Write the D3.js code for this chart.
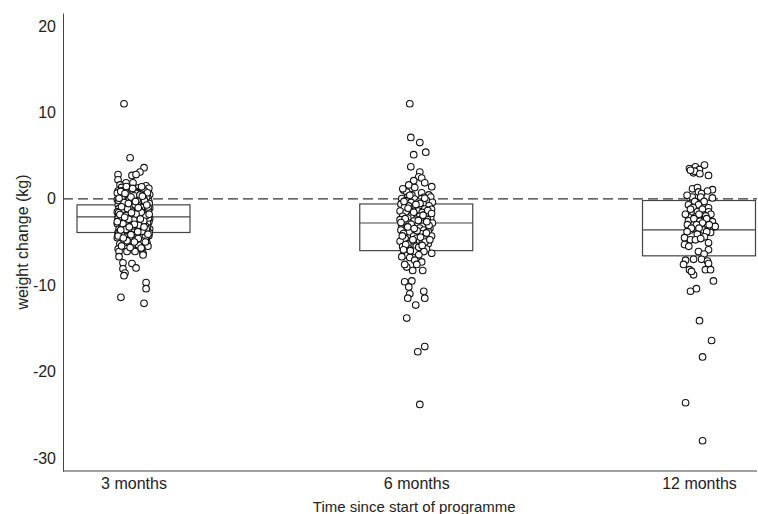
<!DOCTYPE html>
<html>
<head>
<meta charset="utf-8">
<script src="https://cdn.jsdelivr.net/npm/d3@7"></script>
<style>
  body { margin: 0; background: #fff; }
  text { font-family: "Liberation Sans", Arial, sans-serif; fill: #222; }
</style>
</head>
<body>
<div id="chart"></div>
<script>
// ---------------- data ----------------
const groups = ['3 months', '6 months', '12 months'];
const yTicks = [20, 10, 0, -10, -20, -30];

// box: upper hinge, median, lower hinge (kg)
const boxTop = [-0.7, -0.6, -0.2];
const boxMid = [-2.1, -2.8, -3.6];
const boxBot = [-3.9, -6.0, -6.6];

// points: [jitter (-1..1), weight change kg]
const pts3 = [
  [-0.56, 11.0], [-0.2, 4.75], [0.62, 3.6], [0.38, 3.1], [-0.91, 2.8], [-0.09, 2.7], [0.15, 2.8],
  [-0.91, 2.2], [-0.44, 1.85], [0.74, 1.5], [-0.79, 1.6], [-0.03, 1.85], [0.79, 0.8], [0.85, 0.35],
  [-0.7, 1.32], [0.3, 1.27], [0.9, 1.21], [-0.2, 1.08], [0.55, 1.12],
  [-0.9, 0.93], [0.1, 0.88], [0.65, 0.9], [-0.45, 0.72], [0.25, 0.68],
  [-0.8, 0.52], [-0.1, 0.47], [0.45, 0.55], [0.95, 0.49], [-0.6, 0.31], [0.15, 0.28], [0.7, 0.33],
  [-0.3, 0.12], [0.35, 0.08], [0.85, 0.1], [-0.95, -0.08], [-0.5, -0.12], [0.05, -0.1], [0.6, -0.07],
  [-0.75, -0.31], [-0.15, -0.27], [0.4, -0.33], [0.9, -0.29], [-0.55, -0.52], [0.2, -0.48], [0.75, -0.5],
  [-0.9, -0.69], [-0.3, -0.72], [0.0, -0.7], [0.5, -0.67], [-0.65, -0.9], [0.3, -0.88], [0.8, -0.93], [-0.05, -0.91],
  [-0.85, -1.12], [-0.4, -1.08], [0.15, -1.1], [0.6, -1.13], [0.95, -1.07],
  [-0.2, -1.31], [0.4, -1.28], [-0.7, -1.33], [-0.95, -1.52], [-0.5, -1.48], [0.05, -1.5], [0.7, -1.53],
  [-0.3, -1.71], [0.25, -1.68], [0.85, -1.72], [-0.75, -1.7], [-0.6, -1.9], [0.0, -1.88], [0.5, -1.93],
  [-0.9, -2.1], [-0.35, -2.12], [0.2, -2.08], [0.75, -2.11], [-0.1, -2.3], [0.45, -2.28], [-0.65, -2.32], [0.95, -2.31],
  [-0.8, -2.52], [-0.25, -2.48], [0.3, -2.5], [-0.5, -2.71], [0.1, -2.68], [0.65, -2.72], [0.9, -2.69],
  [-0.95, -2.9], [-0.15, -2.92], [0.4, -2.88], [-0.7, -3.1], [0.2, -3.12], [0.8, -3.08],
  [-0.4, -3.3], [0.0, -3.32], [0.55, -3.28], [-0.85, -3.5], [-0.2, -3.52], [0.35, -3.48], [0.95, -3.51],
  [-0.55, -3.71], [0.15, -3.68], [0.7, -3.72], [-0.3, -3.9], [0.45, -3.93], [-0.91, -3.9],
  [-0.8, -4.1], [0.05, -4.12], [0.6, -4.08], [-0.45, -4.3], [0.3, -4.32], [0.9, -4.28],
  [-0.95, -4.5], [-0.1, -4.52], [0.5, -4.48], [-0.6, -4.7], [0.2, -4.72], [0.75, -4.69],
  [-0.3, -4.9], [0.4, -4.93], [0.79, -5.1], [-0.8, -5.2], [0.1, -5.22], [0.65, -5.18],
  [-0.5, -5.5], [0.3, -5.52], [0.85, -5.48], [-0.9, -5.8], [-0.15, -5.82], [0.5, -5.78],
  [-0.85, -6.1], [0.56, -6.3], [0.09, -6.1], [-0.38, -6.1], [-0.85, -6.7], [0.56, -6.5],
  [-0.62, -7.4], [-0.09, -7.5], [-0.62, -8.1], [0.15, -8.0], [-0.5, -8.6], [-0.56, -8.9],
  [0.74, -9.7], [0.74, -10.4], [-0.74, -11.4], [0.62, -12.1],
  [-0.62, 0.95], [0.18, 0.62], [-0.33, 0.41], [0.77, 0.18], [-0.88, -0.2], [0.42, -0.45], [-0.12, -0.6],
  [0.58, -0.82], [-0.48, -0.98], [0.05, -1.2], [0.88, -1.38], [-0.72, -1.45], [0.32, -1.6], [-0.22, -1.78],
  [0.66, -1.85], [-0.58, -2.0], [0.12, -2.2], [-0.82, -2.4], [0.52, -2.42], [-0.38, -2.6], [0.82, -2.8],
  [-0.02, -2.78], [-0.68, -3.0], [0.28, -3.2], [-0.18, -3.42], [0.62, -3.6], [-0.78, -3.78], [0.08, -3.95],
  [0.48, -4.2], [-0.52, -4.4], [-0.42, 1.42], [0.48, 1.38], [-0.05, 1.2], [0.82, 0.7], [-0.68, 0.15],
  [0.22, -0.15], [-0.4, -0.38], [0.68, -0.58], [-0.18, -0.8], [0.48, -1.0], [-0.6, -1.22], [0.25, -1.4],
  [-0.88, -1.62], [0.58, -1.7], [-0.42, -1.92], [0.35, -2.0], [-0.15, -2.2], [0.88, -2.22], [-0.7, -2.62],
  [0.22, -2.55], [-0.32, -2.82], [0.58, -2.98], [-0.5, -3.2], [0.12, -3.55], [-0.62, -3.3], [0.82, -3.35],
  [-0.08, -3.72], [0.38, -3.82], [-0.7, -4.22], [0.7, -4.45], [-0.25, -4.65], [0.55, -4.9], [-0.55, -5.05],
  [0.3, -5.35], [-0.2, -5.65], [-0.95, 0.68], [0.02, 0.35], [0.6, 0.05], [-0.25, -0.05], [0.92, -0.55],
  [-0.6, -0.7], [0.35, -1.25], [-0.1, -1.45], [0.72, -1.95], [-0.9, -2.25], [0.02, -2.45], [0.45, -2.65],
  [-0.48, -2.75], [0.7, -3.15], [-0.3, -3.65], [0.2, -4.0], [-0.88, -4.05], [0.92, -3.95], [-0.1, -4.35],
  [0.12, -4.8],
  [-0.75, 0.85], [0.38, 0.45], [-0.15, 0.2], [0.65, -0.22], [-0.55, -0.42], [0.1, -0.68], [0.85, -0.95],
  [-0.35, -1.15], [0.45, -1.55], [-0.8, -1.82], [0.15, -1.75], [-0.28, -2.38], [0.6, -2.58], [-0.62, -2.9],
  [0.3, -3.05], [-0.05, -3.15], [0.75, -3.5], [-0.45, -3.55], [0.5, -3.75], [-0.9, -4.3], [0.28, -4.6],
  [-0.38, -4.85], [0.7, -5.0], [-0.7, -5.45], [0.45, -5.7], [-0.5, 0.6], [0.52, 0.3], [-0.85, 0.05],
  [0.12, -0.3], [-0.3, -0.55], [0.78, -0.72], [-0.7, -0.92], [0.28, -1.05], [-0.12, -1.62], [0.92, -1.8],
  [-0.52, -2.15], [0.4, -2.35], [-0.95, -2.65], [0.05, -2.95], [0.62, -3.25], [-0.25, -3.25], [-0.75, -3.6],
  [0.25, -3.8], [-0.15, -4.15], [0.85, -4.1], [-0.6, -4.55], [0.05, -5.0]
];

const pts6 = [
  [-0.38, 11.0], [-0.32, 7.1], [0.21, 6.5], [0.56, 5.4], [-0.15, 5.1], [-0.32, 3.7], [0.21, 3.1],
  [0.15, 2.55], [0.32, 2.4], [-0.15, 2.1], [-0.44, 1.6], [0.5, 1.85], [0.91, 1.4], [-0.74, 1.0],
  [-0.56, 0.8], [-0.09, 1.3], [0.74, 0.45], [-0.26, 0.45], [0.32, 0.7], [-0.79, 1.15],
  [-0.5, 0.22], [0.45, 0.18], [0.85, 0.2], [-0.85, 0.02], [-0.1, -0.03], [0.3, 0.01],
  [-0.6, -0.22], [0.6, -0.18], [-0.3, -0.42], [0.15, -0.38], [0.95, -0.41],
  [-0.9, -0.62], [0.4, -0.58], [-0.45, -0.82], [0.05, -0.79], [0.75, -0.81],
  [-0.7, -1.02], [0.25, -0.98], [-0.2, -1.22], [0.5, -1.18], [0.9, -1.21],
  [-0.95, -1.42], [-0.35, -1.38], [0.1, -1.41], [-0.6, -1.62], [0.35, -1.58], [0.7, -1.61],
  [-0.1, -1.82], [0.55, -1.79], [-0.8, -2.02], [-0.3, -1.98], [0.2, -2.01],
  [-0.5, -2.22], [0.4, -2.18], [0.85, -2.21], [-0.95, -2.42], [0.0, -2.38], [0.65, -2.41],
  [-0.7, -2.62], [-0.15, -2.58], [0.3, -2.61], [-0.4, -2.82], [0.5, -2.78], [0.95, -2.81],
  [-0.85, -3.02], [0.1, -2.98], [0.6, -3.01], [-0.25, -3.22], [0.35, -3.18],
  [-0.6, -3.42], [0.2, -3.38], [0.8, -3.41], [-0.9, -3.62], [-0.05, -3.58], [0.45, -3.61],
  [-0.4, -3.82], [0.7, -3.78], [-0.75, -4.02], [0.1, -3.98], [0.3, -4.05],
  [-0.15, -4.32], [0.55, -4.28], [0.9, -4.31], [-0.65, -4.62], [0.0, -4.58], [0.4, -4.61],
  [-0.95, -4.92], [-0.3, -4.88], [0.2, -4.91], [-0.5, -5.22], [0.35, -5.18], [0.7, -5.21],
  [-0.8, -5.52], [0.0, -5.48], [-0.4, -5.82], [0.25, -5.78], [0.6, -5.81],
  [-0.7, -6.12], [-0.1, -6.08], [0.45, -6.11], [-0.55, -6.52], [0.15, -6.48],
  [0.91, -6.3], [-0.85, -6.7], [-0.38, -6.8], [-0.09, -7.1], [0.32, -7.3], [-0.56, -7.9],
  [-0.68, -7.6], [0.03, -7.6], [0.38, -8.3], [-0.21, -8.3],
  [-0.68, -9.6], [-0.26, -9.5], [-0.44, -10.2], [0.44, -10.7], [-0.38, -11.0], [-0.5, -11.5],
  [0.5, -11.5], [-0.03, -12.3], [-0.56, -13.8], [0.5, -17.1], [0.09, -17.7], [0.21, -23.8],
  [-0.72, -0.3], [0.22, -0.55], [-0.48, -1.1], [0.68, -1.35], [-0.15, -1.55], [0.4, -1.9],
  [-0.65, -2.3], [0.12, -2.5], [-0.3, -2.95], [0.75, -3.1], [-0.5, -3.25], [0.05, -3.7],
  [0.6, -3.95], [-0.82, -4.3], [0.25, -4.45], [-0.2, -4.75], [0.52, -5.0], [-0.62, -5.3],
  [0.15, -5.6], [-0.35, -6.0], [0.8, -4.75], [-0.9, -2.75], [0.9, -1.7], [-0.02, -0.65],
  [0.5, 0.05], [-0.38, 0.4], [0.62, -2.65], [-0.12, -3.45], [0.35, -5.4], [-0.75, -5.9]
];

const pts12 = [
  [-0.56, 3.5], [-0.21, 3.7], [0.03, 3.4], [0.32, 3.9], [-0.32, 3.0], [0.56, 2.7], [-0.26, 3.2],
  [0.05, 2.9], [-0.5, 3.3],
  [-0.38, 1.15], [-0.09, 1.3], [-0.03, 0.8], [0.15, 0.6], [0.79, 1.05], [0.79, 0.1], [0.5, 0.9],
  [-0.4, 0.2], [0.1, 0.2], [-0.7, 0.4], [0.3, -0.3], [-0.25, -0.3],
  [-0.62, -0.7], [-0.03, -0.7], [0.56, -1.05], [-0.35, -1.0], [-0.09, -1.5], [0.56, -1.5],
  [-0.5, -1.2], [0.2, -1.2], [-0.62, -2.1], [-0.21, -2.1], [0.32, -1.9], [-0.8, -1.8],
  [0.0, -1.8], [0.7, -1.8], [0.4, -2.0], [-0.62, -2.55], [0.79, -2.65], [-0.3, -2.3], [0.45, -2.3],
  [0.05, -2.6], [-0.68, -3.0], [0.21, -2.8], [0.5, -3.25], [0.85, -3.25], [0.95, -3.2],
  [-0.15, -3.0], [0.6, -3.0], [-0.5, -3.6], [0.26, -3.6], [-0.45, -3.4], [0.0, -3.4],
  [0.68, -3.9], [0.45, -3.8], [-0.7, -3.8], [-0.1, -4.1], [0.32, -4.4], [-0.85, -4.5],
  [-0.5, -4.75], [-0.21, -4.75], [0.1, -4.6], [-0.85, -5.3], [0.56, -5.1], [-0.6, -5.5],
  [0.56, -5.9], [-0.03, -6.1], [0.3, -6.4],
  [-0.79, -7.1], [-0.32, -7.0], [0.15, -7.0], [0.5, -7.2], [-0.91, -7.6], [0.56, -7.5],
  [-0.56, -8.2], [-0.32, -8.8], [0.38, -8.2], [0.68, -8.2], [-0.44, -8.4], [0.85, -9.5],
  [-0.5, -10.7], [-0.15, -10.4], [0.03, -14.1], [0.74, -16.4], [0.21, -18.3],
  [-0.79, -23.6], [0.21, -28.0]
];

const series = [pts3, pts6, pts12];

// ---------------- layout ----------------
const width = 758, height = 514;
const margin = { top: 13, right: 1, bottom: 43, left: 63 };
const w = width - margin.left - margin.right;
const h = height - margin.top - margin.bottom;
const boxW = 113;
const jitterW = 17;

const svg = d3.select('#chart')
  .append('svg')
  .attr('width', width)
  .attr('height', height);

const g = svg.append('g')
  .attr('transform', `translate(${margin.left},${margin.top})`);

const x = d3.scalePoint()
  .domain(groups)
  .range([70.5, 636]);

const y = d3.scaleLinear()
  .domain([-31.5, 21.5])
  .range([h, 0]);

// reference line at 0
g.append('line')
  .attr('x1', 0)
  .attr('x2', w)
  .attr('y1', y(0))
  .attr('y2', y(0))
  .attr('stroke', '#333')
  .attr('stroke-width', 1.2)
  .attr('stroke-dasharray', '10,5');

// boxes
const boxes = g.selectAll('.box')
  .data(groups)
  .enter()
  .append('g')
  .attr('class', 'box');

boxes.append('rect')
  .attr('x', d => x(d) - boxW / 2)
  .attr('y', (d, i) => y(boxTop[i]))
  .attr('width', boxW)
  .attr('height', (d, i) => y(boxBot[i]) - y(boxTop[i]))
  .attr('fill', 'none')
  .attr('stroke', '#444')
  .attr('stroke-width', 1.2);

boxes.append('line')
  .attr('x1', d => x(d) - boxW / 2)
  .attr('x2', d => x(d) + boxW / 2)
  .attr('y1', (d, i) => y(boxMid[i]))
  .attr('y2', (d, i) => y(boxMid[i]))
  .attr('stroke', '#444')
  .attr('stroke-width', 1.2);

// jittered points
series.forEach((pts, i) => {
  g.append('g')
    .selectAll('circle')
    .data(pts)
    .enter()
    .append('circle')
    .attr('cx', d => x(groups[i]) + d[0] * jitterW)
    .attr('cy', d => y(d[1]))
    .attr('r', 3.3)
    .attr('fill', '#fff')
    .attr('stroke', '#111')
    .attr('stroke-width', 1.1);
});

// axes
const yAxis = g.append('g')
  .call(d3.axisLeft(y).tickValues(yTicks).tickSize(0).tickPadding(7).tickFormat(d => String(d)));
yAxis.select('.domain').attr('stroke', '#444');
yAxis.selectAll('text').style('font-size', '16px').attr('fill', '#222');

const xAxis = g.append('g')
  .attr('transform', `translate(0,${h})`)
  .call(d3.axisBottom(x).tickSize(0).tickPadding(7));
xAxis.select('.domain').remove();
xAxis.selectAll('text').style('font-size', '16px').attr('fill', '#222');

g.append('line')
  .attr('x1', 0)
  .attr('x2', w)
  .attr('y1', h)
  .attr('y2', h)
  .attr('stroke', '#444');

// axis titles
svg.append('text')
  .attr('transform', `translate(22,${margin.top + h / 2}) rotate(-90)`)
  .attr('text-anchor', 'middle')
  .attr('dominant-baseline', 'central')
  .style('font-size', '16px')
  .text('weight change (kg)');

svg.append('text')
  .attr('x', margin.left + x('6 months') - 2)
  .attr('y', 512)
  .attr('text-anchor', 'middle')
  .style('font-size', '15px')
  .text('Time since start of programme');
</script>
</body>
</html>
